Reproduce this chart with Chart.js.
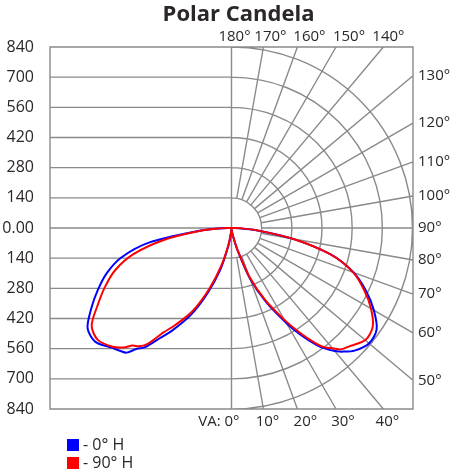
<!DOCTYPE html>
<html>
<head>
<meta charset="utf-8">
<title>Polar Candela</title>
<script src="https://cdn.jsdelivr.net/npm/chart.js@4"></script>
<style>
  body { margin: 0; background: #fff; }
</style>
</head>
<body>
<canvas id="polar" width="450" height="475"></canvas>
<script>
// Vertical angles (degrees from nadir)
const angles = [0, 5, 10, 15, 20, 25, 30, 33, 36, 38, 40, 42, 45, 50, 55, 60, 65, 70, 75, 80, 85, 88, 90];

// candela, left half and right half of the plot
const h0Left   = [5, 20, 85, 200, 318, 445, 550, 610, 685, 711, 755, 768, 785, 822, 813, 750, 683, 615, 528, 385, 150, 55, 0];
const h0Right  = [5, 10, 35, 105, 250, 380, 510, 595, 672, 712, 745, 772, 805, 832, 820, 760, 686, 600, 475, 285, 110, 40, 0];
const h90Left  = [5, 18, 75, 180, 300, 425, 520, 578, 668, 697, 712, 746, 779, 808, 790, 715, 646, 573, 470, 315, 138, 50, 0];
const h90Right = [5, 10, 32, 100, 240, 368, 495, 578, 660, 703, 728, 758, 775, 809, 798, 745, 676, 598, 475, 288, 112, 42, 0];

const cdSteps = [140, 280, 420, 560, 700, 840];
const maxCd = 840;
const topAngles = [180, 170, 160, 150, 140];
const rightAngles = [130, 120, 110, 100, 90, 80, 70, 60, 50];
const bottomAngles = [0, 10, 20, 30, 40];

const gridColor = "#8a8a8a";
const textColor = "#2b2726";
const font = "'Open Sans', 'Noto Sans', sans-serif";

// polar -> cartesian, left half mirrored
function toXY(left, right) {
    const pts = [];
    for (let i = angles.length - 1; i >= 0; i--) {
        const a = angles[i] * Math.PI / 180;
        pts.push({ x: -left[i] * Math.sin(a), y: -left[i] * Math.cos(a) });
    }
    for (let i = 1; i < angles.length; i++) {
        const a = angles[i] * Math.PI / 180;
        pts.push({ x: right[i] * Math.sin(a), y: -right[i] * Math.cos(a) });
    }
    return pts;
}

function rayEnd(area, cx, cy, deg) {
    const dx = Math.sin(deg * Math.PI / 180);
    const dy = Math.cos(deg * Math.PI / 180);
    let t = Infinity;
    if (dx > 1e-9) t = Math.min(t, (area.right - cx) / dx);
    if (dy > 1e-9) t = Math.min(t, (area.bottom - cy) / dy);
    if (dy < -1e-9) t = Math.min(t, (area.top - cy) / dy);
    return { x: cx + t * dx, y: cy + t * dy, dx, dy };
}

const polarGrid = {
    id: "polarGrid",
    beforeDatasetsDraw(chart) {
        const { ctx, chartArea: a, scales: { x, y } } = chart;
        const cx = x.getPixelForValue(0);
        const cy = y.getPixelForValue(0);
        const k = (cy - y.getPixelForValue(maxCd)) / maxCd;

        ctx.save();
        ctx.strokeStyle = gridColor;
        ctx.lineWidth = 1.4;
        ctx.beginPath();

        // horizontal lines, left half
        for (const v of [0, ...cdSteps, ...cdSteps.map(s => -s)]) {
            const py = y.getPixelForValue(v);
            ctx.moveTo(a.left, py);
            ctx.lineTo(cx, py);
        }
        ctx.moveTo(cx, a.top);
        ctx.lineTo(cx, a.bottom);

        // arcs, right half
        for (const v of cdSteps) {
            ctx.moveTo(cx, cy - v * k);
            ctx.arc(cx, cy, v * k, -Math.PI / 2, Math.PI / 2);
        }

        // radial lines every 10 deg
        const r0 = cdSteps[0] * k;
        for (let deg = 10; deg < 180; deg += 10) {
            const e = rayEnd(a, cx, cy, deg);
            ctx.moveTo(cx + r0 * e.dx, cy + r0 * e.dy);
            ctx.lineTo(e.x, e.y);
        }
        ctx.rect(a.left, a.top, a.right - a.left, a.bottom - a.top);
        ctx.stroke();
        ctx.restore();
    },
    afterDraw(chart) {
        const { ctx, chartArea: a, scales: { x, y } } = chart;
        const cx = x.getPixelForValue(0);
        const cy = y.getPixelForValue(0);

        ctx.save();
        ctx.fillStyle = textColor;

        // title
        ctx.font = "bold 22px " + font;
        ctx.textAlign = "center";
        ctx.textBaseline = "middle";
        ctx.fillText("Polar Candela", cx + 7, 15);

        ctx.font = "15px " + font;
        const topShift = [3, 7, 12, 13, 5];
        topAngles.forEach((deg, i) => {
            const e = rayEnd(a, cx, cy, deg);
            ctx.textAlign = "center";
            ctx.fillText(deg + "°", e.x + topShift[i], a.top - 10);
        });
        rightAngles.forEach(deg => {
            const e = rayEnd(a, cx, cy, deg);
            ctx.textAlign = "left";
            ctx.fillText(deg + "°", a.right + 5, e.y);
        });
        const bottomShift = [0, 4, 8, 7, 4];
        bottomAngles.forEach((deg, i) => {
            const e = rayEnd(a, cx, cy, deg);
            if (deg === 0) {
                ctx.textAlign = "right";
                ctx.fillText("VA: 0°", cx + 8, a.bottom + 13);
            } else {
                ctx.textAlign = "center";
                ctx.fillText(deg + "°", e.x + bottomShift[i], a.bottom + 13);
            }
        });

        // legend
        ctx.font = "16px " + font;
        ctx.textAlign = "left";
        chart.data.datasets.forEach((ds, i) => {
            const ly = a.bottom + 30 + i * 18;
            ctx.fillStyle = ds.borderColor;
            ctx.fillRect(a.left + 17, ly, 12, 12);
            ctx.fillStyle = textColor;
            ctx.fillText("- " + ds.label, a.left + 33, ly + 6);
        });
        ctx.restore();
    }
};

new Chart(document.getElementById("polar"), {
    type: "scatter",
    data: {
        datasets: [{
            label: "0° H",
            data: toXY(h0Left, h0Right),
            borderColor: "#0000ff",
            backgroundColor: "#0000ff",
            order: 1
        }, {
            label: "90° H",
            data: toXY(h90Left, h90Right),
            borderColor: "#ff0000",
            backgroundColor: "#ff0000",
            order: 0
        }]
    },
    options: {
        responsive: false,
        animation: false,
        devicePixelRatio: 1,
        showLine: true,
        elements: {
            point: { radius: 0, hoverRadius: 0 },
            line: { borderWidth: 2, tension: 0.3, fill: false }
        },
        layout: { padding: { top: 47, right: 37, bottom: 66, left: 0 } },
        scales: {
            x: { type: "linear", min: -maxCd, max: maxCd, display: false },
            y: {
                type: "linear",
                min: -maxCd,
                max: maxCd,
                grid: { display: false },
                border: { display: false },
                ticks: {
                    stepSize: 140,
                    padding: 8,
                    color: textColor,
                    font: { family: font, size: 16 },
                    callback: v => v === 0 ? "0.00" : Math.abs(v)
                },
                afterFit: s => { s.width = 50; }
            }
        },
        plugins: {
            legend: { display: false },
            tooltip: { enabled: false },
            title: { display: false }
        }
    },
    plugins: [polarGrid]
});
</script>
</body>
</html>
